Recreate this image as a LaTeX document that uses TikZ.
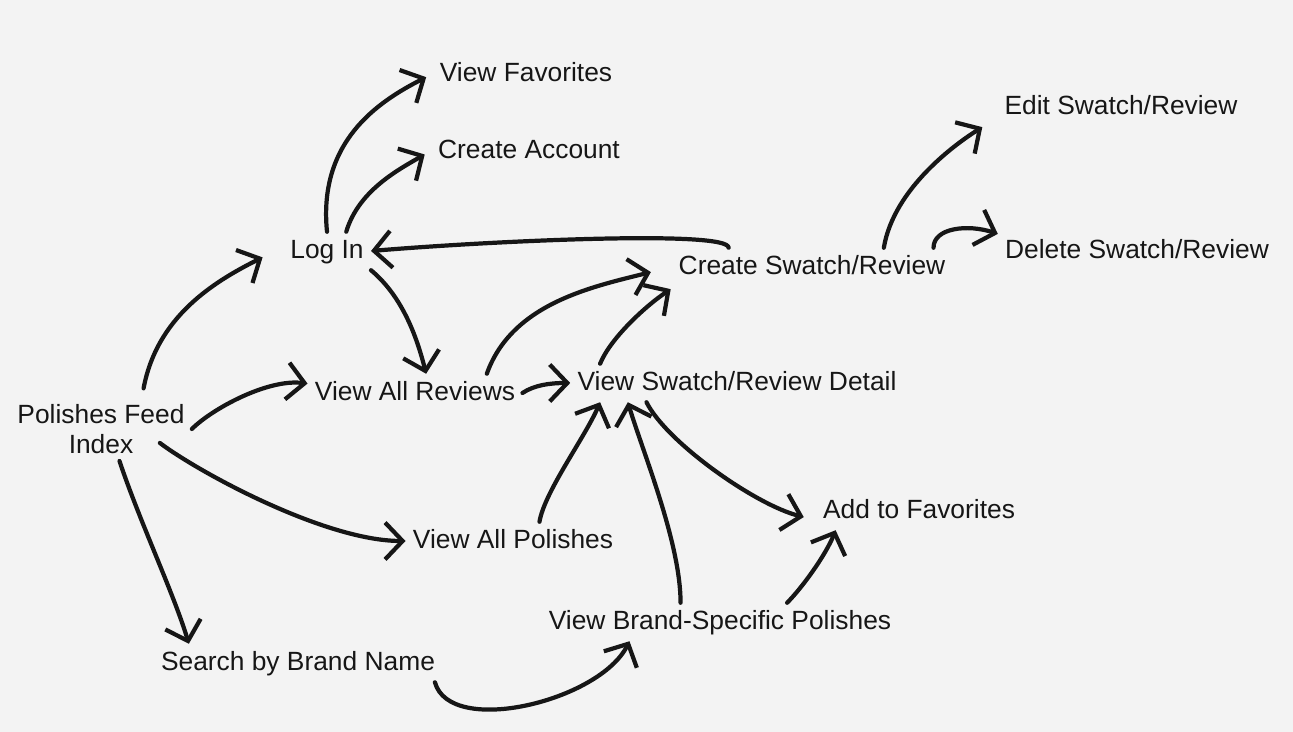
\documentclass[tikz,border=0pt]{standalone}
\usepackage{fontspec}
\setmainfont{Liberation Sans}
\usetikzlibrary{arrows.meta}
\definecolor{pfink}{RGB}{22,22,22}
\definecolor{pfpaper}{RGB}{243,243,243}
\tikzstyle{screen} = [font=\fontsize{15}{17}\selectfont, text=pfink, inner sep=4pt]
\tikzstyle{onescreen} = [screen, text height=11pt, text depth=2.5pt]
\tikzstyle{flow} = [line width=2.4pt, line cap=round, line join=round, draw=pfink, -{Straight Barb[length=10pt,width=21pt]}]

\begin{document}
\begin{tikzpicture}[x=0.02cm, y=0.02cm]
% canvas
\fill[pfpaper] (0,0) rectangle (1293,732);
\useasboundingbox (0,0) rectangle (1293,732);

% screens
\node (feed) [screen, align=center] at (101,303) {Polishes Feed\\Index};
\node (login) [onescreen] at (327,481) {Log In};
\node (fav) [onescreen] at (526,658) {View Favorites};
\node (acct) [onescreen] at (529,581) {Create Account};
\node (reviews) [onescreen] at (415,339) {View All Reviews};
\node (detail) [onescreen] at (737,349) {View Swatch/Review Detail};
\node (create) [onescreen] at (812,465) {Create Swatch/Review};
\node (edit) [onescreen] at (1121,625) {Edit Swatch/Review};
\node (delete) [onescreen] at (1137,481) {Delete Swatch/Review};
\node (polishes) [onescreen] at (513,191) {View All Polishes};
\node (addfav) [onescreen] at (919,221) {Add to Favorites};
\node (brand) [onescreen] at (720,110) {View Brand-Specific Polishes};
\node (search) [onescreen] at (298,69) {Search by Brand Name};

% flows out of the feed
\draw[flow, shorten <=5pt, shorten >=13pt] (feed.38) .. controls +(15,80) and +(-70,-35) .. (login.175);
\draw[flow] (feed.east) .. controls +(20,20) and +(-40,5) .. (reviews.175);
\draw[flow] ([shift={(-32,18)}]feed.south east) .. controls +(40,-30) and +(-80,0) .. (polishes.west);
\draw[flow] (feed.-60) .. controls +(20,-60) and +(-15,50) .. (search.170);

% account
\draw[flow, shorten >=4pt] (login.north) .. controls +(-9,90) and +(-55,-28) .. (fav.west);
\draw[flow, shorten >=4pt] (login.45) .. controls +(12,40) and +(-35,-20) .. (acct.west);
\draw[flow] (login.south east) .. controls +(30,-25) and +(-10,40) .. (reviews.60);
\draw[flow] (create.167) .. controls +(0,18) and +(120,10) .. (login.east);

% reviews and swatches
\draw[flow, shorten >=12pt] (reviews.15) .. controls +(25,70) and +(-80,-20) .. (create.west);
\draw[flow] (reviews.east) .. controls +(12,8) and +(-20,0) .. (detail.west);
\draw[flow, shorten >=3pt] (detail.172) .. controls +(10,25) and +(-30,-20) .. (create.188);
\draw[flow, shorten >=7pt] (detail.192) .. controls +(20,-40) and +(-60,15) .. (addfav.185);
\draw[flow] (polishes.36) .. controls +(5,30) and +(-15,-35) .. (detail.188);
\draw[flow] (brand.154) .. controls +(0,60) and +(15,-50) .. (detail.190);
\draw[flow] (brand.16) .. controls +(15,15) and +(-10,-25) .. (addfav.193);
\draw[flow] (search.-8) .. controls +(15,-55) and +(-30,-60) .. (brand.192);
\draw[flow, shorten >=10pt] (create.15) .. controls +(10,60) and +(-40,-25) .. (edit.185);
\draw[flow] (create.9) .. controls +(0,20) and +(-30,10) .. (delete.173);
\end{tikzpicture}
\end{document}
